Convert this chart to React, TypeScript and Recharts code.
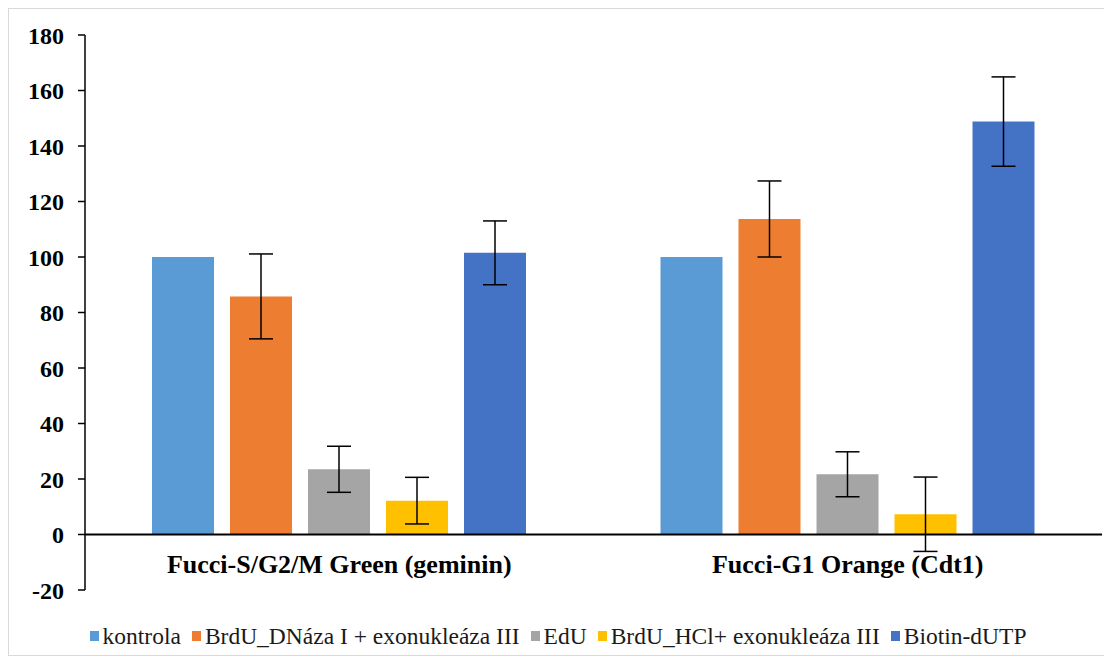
import { BarChart, Bar, XAxis, YAxis, ErrorBar, ReferenceLine, Legend } from 'recharts'

const categories = ['Fucci-S/G2/M Green (geminin)', 'Fucci-G1 Orange (Cdt1)']

const kontrola = [100, 100]
const brduDnaza = [85.8, 113.7]
const brduDnazaErr = [15.3, 13.7]
const edu = [23.5, 21.7]
const eduErr = [8.3, 8.1]
const brduHcl = [12.2, 7.3]
const brduHclErr = [8.4, 13.4]
const biotin = [101.5, 148.8]
const biotinErr = [11.5, 16.1]

const yTicks = [-20, 0, 20, 40, 60, 80, 100, 120, 140, 160, 180]

const series = [
  { key: 'kontrola', name: 'kontrola', color: '#5B9BD5', err: null },
  { key: 'brduDnaza', name: 'BrdU_DNáza I + exonukleáza III', color: '#ED7D31', err: 'brduDnazaErr' },
  { key: 'edu', name: 'EdU', color: '#A5A5A5', err: 'eduErr' },
  { key: 'brduHcl', name: 'BrdU_HCl+ exonukleáza III', color: '#FFC000', err: 'brduHclErr' },
  { key: 'biotin', name: 'Biotin-dUTP', color: '#4472C4', err: 'biotinErr' },
]

const data = categories.map((name, i) => ({
  name,
  kontrola: kontrola[i],
  brduDnaza: brduDnaza[i],
  brduDnazaErr: brduDnazaErr[i],
  edu: edu[i],
  eduErr: eduErr[i],
  brduHcl: brduHcl[i],
  brduHclErr: brduHclErr[i],
  biotin: biotin[i],
  biotinErr: biotinErr[i],
}))

const FONT = '"Liberation Serif", "Times New Roman", serif'

function CategoryTick({ x, y, payload }: any) {
  return (
    <text x={x} y={y} dy={-25} textAnchor="middle" fontFamily={FONT} fontWeight="bold" fontSize={26} fill="#000">
      {payload.value}
    </text>
  )
}

function renderLegend() {
  return (
    <div style={{ display: 'flex', justifyContent: 'center', alignItems: 'center', height: 24, paddingTop: 4, fontFamily: FONT, fontSize: 23.5, color: '#1a1a1a' }}>
      {series.map((s) => (
        <div key={s.key} style={{ display: 'flex', alignItems: 'center', marginRight: 11 }}>
          <span style={{ display: 'inline-block', width: 9, height: 10, background: s.color, marginRight: 4 }} />
          <span>{s.name}</span>
        </div>
      ))}
    </div>
  )
}

export default function App() {
  return (
    <div style={{ width: 1102, height: 646, border: '1px solid #d9d9d9', background: '#fff' }}>
      <BarChart
        width={1102}
        height={646}
        data={data}
        margin={{ top: 26, right: 9, left: 16, bottom: 7 }}
        barCategoryGap={67}
        barGap={16}
      >
        <XAxis dataKey="name" axisLine={false} tickLine={false} height={30} tick={<CategoryTick />} interval={0} />
        <YAxis
          domain={[-20, 180]}
          ticks={yTicks}
          width={60}
          axisLine={{ stroke: '#000', strokeWidth: 1.5 }}
          tickLine={{ stroke: '#000', strokeWidth: 1.5 }}
          tickSize={7}
          tickMargin={14}
          tick={{ fontFamily: FONT, fontWeight: 'bold', fontSize: 24, fill: '#000' }}
        />
        <Legend verticalAlign="bottom" content={renderLegend} />
        {series.map((s) => (
          <Bar key={s.key} dataKey={s.key} name={s.name} fill={s.color} isAnimationActive={false}>
            {s.err && <ErrorBar dataKey={s.err} width={12} stroke="#000" strokeWidth={1.5} />}
          </Bar>
        ))}
        <ReferenceLine y={0} stroke="#000" strokeWidth={2} />
      </BarChart>
    </div>
  )
}
